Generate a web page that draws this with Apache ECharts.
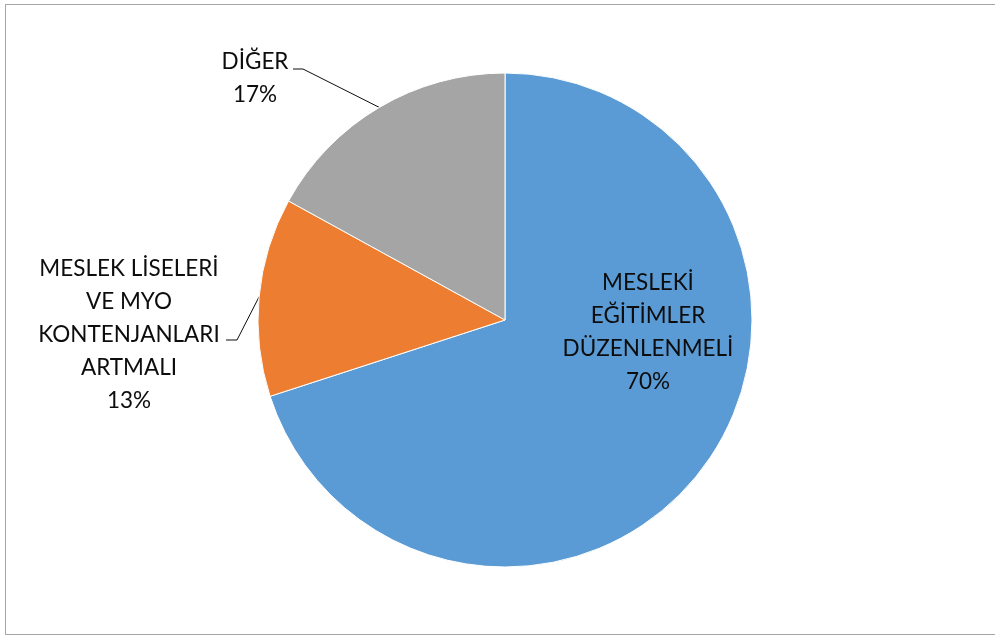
<!DOCTYPE html>
<html>
<head>
<meta charset="utf-8">
<script src="https://cdn.jsdelivr.net/npm/echarts@6/dist/echarts.min.js"></script>
<style>
  html, body { margin: 0; padding: 0; background: #ffffff; }
  #frame {
    position: absolute; left: 5px; top: 4px; width: 995px; height: 631px;
    border: 1px solid #a6a6a6; border-right: none; box-sizing: border-box;
  }
  #chart { position: absolute; left: 0; top: 0; width: 995px; height: 635px; }
</style>
</head>
<body>
<div id="frame"></div>
<div id="chart"></div>
<script>
// Survey answers and their shares
const categories = [
  'MESLEKİ\nEĞİTİMLER\nDÜZENLENMELİ',
  'MESLEK LİSELERİ\nVE MYO\nKONTENJANLARI\nARTMALI',
  'DİĞER'
];
const values = [70, 13, 17];
const colors = ['#5B9BD5', '#ED7D31', '#A5A5A5'];

// Layout of the pie and its labels (pixels)
const CENTER = [505, 320];
const RADIUS = 247;
const labelSpots = [
  { x: 648, y: 332 },
  { x: 129, y: 335, elbow: [237, 340], end: [226, 340] },
  { x: 255, y: 78, elbow: [303, 69], end: [293, 69] }
];

// Edge point of a slice at its middle angle, clockwise from 12 o'clock
const total = values.reduce((a, b) => a + b, 0);
function sliceEdgePoint(i) {
  let before = 0;
  for (let k = 0; k < i; k++) before += values[k];
  const mid = (before + values[i] / 2) / total * Math.PI * 2;
  return [CENTER[0] + RADIUS * Math.sin(mid), CENTER[1] - RADIUS * Math.cos(mid)];
}

const chart = echarts.init(document.getElementById('chart'), null, { renderer: 'canvas' });

chart.setOption({
  animation: false,
  series: [{
    type: 'pie',
    center: CENTER,
    radius: RADIUS,
    startAngle: 90,
    clockwise: true,
    avoidLabelOverlap: false,
    percentPrecision: 0,
    itemStyle: { borderColor: '#ffffff', borderWidth: 1 },
    label: {
      show: true,
      position: 'outside',
      formatter: '{b}\n{d}%',
      fontFamily: 'Lato',
      fontSize: 22.5,
      lineHeight: 33,
      color: '#0d0d0d'
    },
    labelLine: {
      show: true,
      lineStyle: { color: '#0d0d0d', width: 1 }
    },
    labelLayout: function (params) {
      const spot = labelSpots[params.dataIndex];
      const out = { x: spot.x, y: spot.y, align: 'center', verticalAlign: 'middle' };
      if (spot.elbow) {
        out.labelLinePoints = [sliceEdgePoint(params.dataIndex), spot.elbow, spot.end];
      }
      return out;
    },
    data: categories.map((name, i) => ({
      name: name,
      value: values[i],
      itemStyle: { color: colors[i] },
      labelLine: { show: i !== 0 }
    }))
  }]
});
</script>
</body>
</html>
